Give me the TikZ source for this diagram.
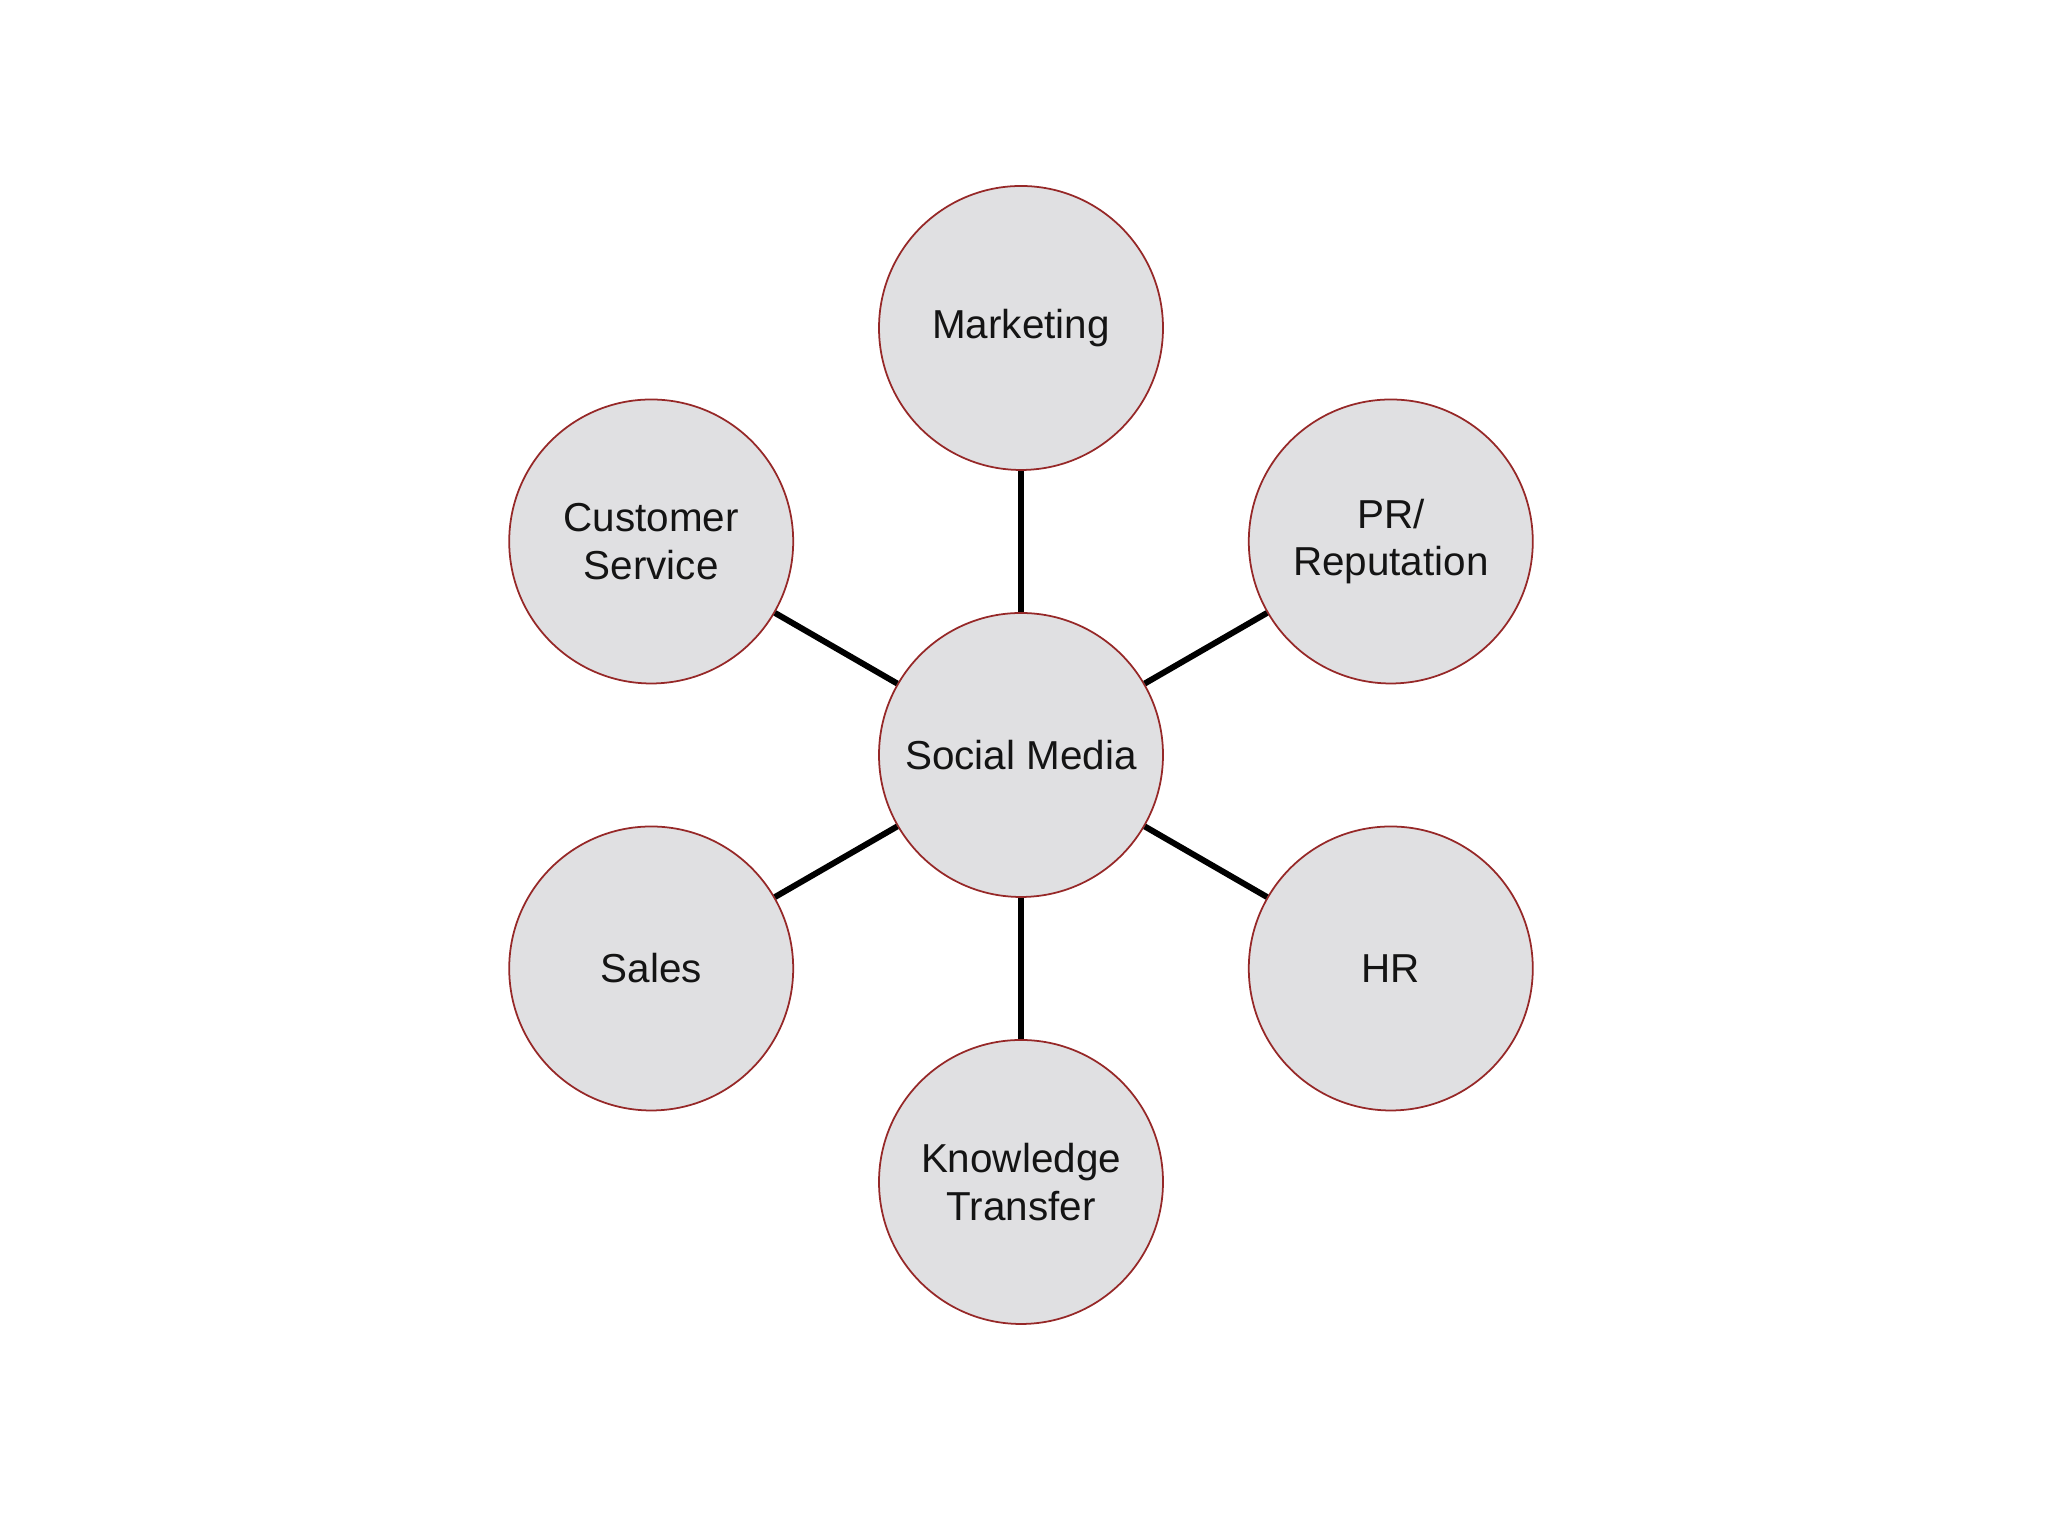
\documentclass[tikz,border=0pt]{standalone}
\usepackage{fontspec}
\setmainfont{Liberation Sans}
\usetikzlibrary{positioning,calc}

\definecolor{rimred}{RGB}{150,40,40}
\definecolor{discgray}{RGB}{224,224,226}

\begin{document}
\begin{tikzpicture}[font=\fontsize{11.5}{13.5}\selectfont,
  topic/.style={circle, draw=rimred, line width=0.5pt, fill=discgray,
    minimum size=2.84cm, inner sep=0pt, align=center, text=black!92},
  spoke/.style={line width=1.7pt, black}]
  \useasboundingbox (0,0) rectangle (20.48,15.36);
  % hub
  \node[topic] (hub) at (10.21,7.81) {Social Media};
  % satellites
  \node[topic] (mkt)   at ($(hub)+(90:4.27)$)  {Marketing};
  \node[topic] (pr)    at ($(hub)+(30:4.27)$)  {PR/\\Reputation};
  \node[topic] (hr)    at ($(hub)+(-30:4.27)$) {HR};
  \node[topic] (know)  at ($(hub)+(-90:4.27)$) {Knowledge\\Transfer};
  \node[topic] (sales) at ($(hub)+(210:4.27)$) {Sales};
  \node[topic] (cust)  at ($(hub)+(150:4.27)$) {Customer\\Service};
  % spokes
  \foreach \t in {mkt,pr,hr,know,sales,cust}
    \draw[spoke] (hub) -- (\t);
\end{tikzpicture}
\end{document}
